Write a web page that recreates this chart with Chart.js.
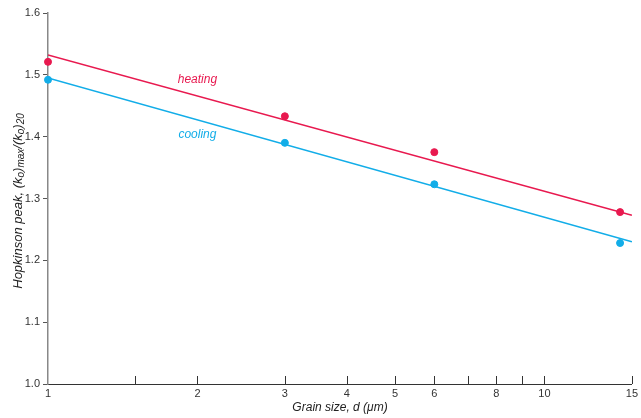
<!DOCTYPE html>
<html>
<head>
<meta charset="utf-8">
<script src="https://cdn.jsdelivr.net/npm/chart.js@4/dist/chart.umd.min.js"></script>
<style>
  html, body { margin: 0; padding: 0; background: #fff; }
  #wrap { width: 641px; height: 418px; }
</style>
</head>
<body>
<div id="wrap"><canvas id="c" width="641" height="418"></canvas></div>
<script>
// grain size d (um) and Hopkinson peak ratio
const grainSize = [1, 3, 6, 14.2];
const heatingPts = [1.521, 1.433, 1.375, 1.278];
const coolingPts = [1.492, 1.390, 1.323, 1.228];

// fitted straight lines (log x), end points
const fitX = [1, 15];
const heatingFit = [1.532, 1.273];
const coolingFit = [1.495, 1.230];

const xTicks = [1, 1.5, 2, 3, 4, 5, 6, 7, 8, 9, 10, 15];
const xLabels = [1, 2, 3, 4, 5, 6, 8, 10, 15];
const yTicks = [1.0, 1.1, 1.2, 1.3, 1.4, 1.5, 1.6];

const HEAT = '#e8194f';
const COOL = '#12ade8';
const FONT = 'Arial, "Liberation Sans", sans-serif';

const toXY = (xs, ys) => xs.map((x, i) => ({ x: x, y: ys[i] }));

// inward x ticks, axis titles, curve labels
const decor = {
  id: 'decor',
  afterDraw(chart) {
    const { ctx, chartArea: a, scales: { x, y } } = chart;
    ctx.save();
    ctx.strokeStyle = '#333';
    ctx.lineWidth = 1;
    xTicks.forEach(v => {
      if (v === 1) return;
      const px = Math.round(x.getPixelForValue(v)) + 0.5;
      ctx.beginPath();
      ctx.moveTo(px, a.bottom);
      ctx.lineTo(px, a.bottom - 8);
      ctx.stroke();
    });

    ctx.font = 'italic 12px ' + FONT;
    ctx.fillStyle = HEAT;
    ctx.textAlign = 'center';
    ctx.textBaseline = 'middle';
    ctx.fillText('heating', x.getPixelForValue(2), y.getPixelForValue(1.492));
    ctx.fillStyle = COOL;
    ctx.fillText('cooling', x.getPixelForValue(2), y.getPixelForValue(1.404));

    // x title
    ctx.fillStyle = '#222';
    ctx.font = 'italic 12px ' + FONT;
    ctx.fillText('Grain size, d (\u03bcm)', 340, 408);

    // y title with subscripts
    const parts = [
      ['Hopkinson peak, (k', 13, 0], ['o', 10, 3], [')', 13, 0], ['max', 10, 3],
      ['/(k', 13, 0], ['o', 10, 3], [')', 13, 0], ['20', 10, 3]
    ];
    let total = 0;
    parts.forEach(p => { ctx.font = 'italic ' + p[1] + 'px ' + FONT; total += ctx.measureText(p[0]).width; });
    ctx.translate(18, 201);
    ctx.rotate(-Math.PI / 2);
    ctx.textAlign = 'left';
    let cx = -total / 2;
    parts.forEach(p => {
      ctx.font = 'italic ' + p[1] + 'px ' + FONT;
      ctx.fillText(p[0], cx, p[2]);
      cx += ctx.measureText(p[0]).width;
    });
    ctx.restore();
  }
};

new Chart(document.getElementById('c'), {
  type: 'scatter',
  data: {
    datasets: [
      { data: toXY(fitX, heatingFit), showLine: true, borderColor: HEAT, borderWidth: 1.5, pointRadius: 0 },
      { data: toXY(fitX, coolingFit), showLine: true, borderColor: COOL, borderWidth: 1.5, pointRadius: 0 },
      { data: toXY(grainSize, heatingPts), backgroundColor: HEAT, borderColor: HEAT, pointRadius: 3.5, clip: false },
      { data: toXY(grainSize, coolingPts), backgroundColor: COOL, borderColor: COOL, pointRadius: 3.5, clip: false }
    ]
  },
  options: {
    responsive: false,
    animation: false,
    layout: { padding: { top: 13, right: 7, left: 0, bottom: 0 } },
    plugins: { legend: { display: false }, tooltip: { enabled: false } },
    scales: {
      x: {
        type: 'logarithmic',
        min: 1, max: 15,
        afterBuildTicks: s => { s.ticks = xTicks.map(v => ({ value: v })); },
        afterFit: s => { s.height = 34; },
        ticks: {
          color: '#333', font: { size: 11, family: FONT }, padding: 3, maxRotation: 0, autoSkip: false,
          callback: v => xLabels.includes(v) ? String(v) : ''
        },
        grid: { display: true, drawOnChartArea: false, drawTicks: false },
        border: { color: '#333', width: 1 }
      },
      y: {
        min: 1.0, max: 1.6,
        afterBuildTicks: s => { s.ticks = yTicks.map(v => ({ value: v })); },
        afterFit: s => { s.width = 48; },
        ticks: { color: '#333', font: { size: 11, family: FONT }, padding: 3, callback: v => v.toFixed(1) },
        grid: { drawOnChartArea: false, tickLength: 5, color: '#555' },
        border: { color: '#888', width: 1.5 }
      }
    }
  },
  plugins: [decor]
});
</script>
</body>
</html>
